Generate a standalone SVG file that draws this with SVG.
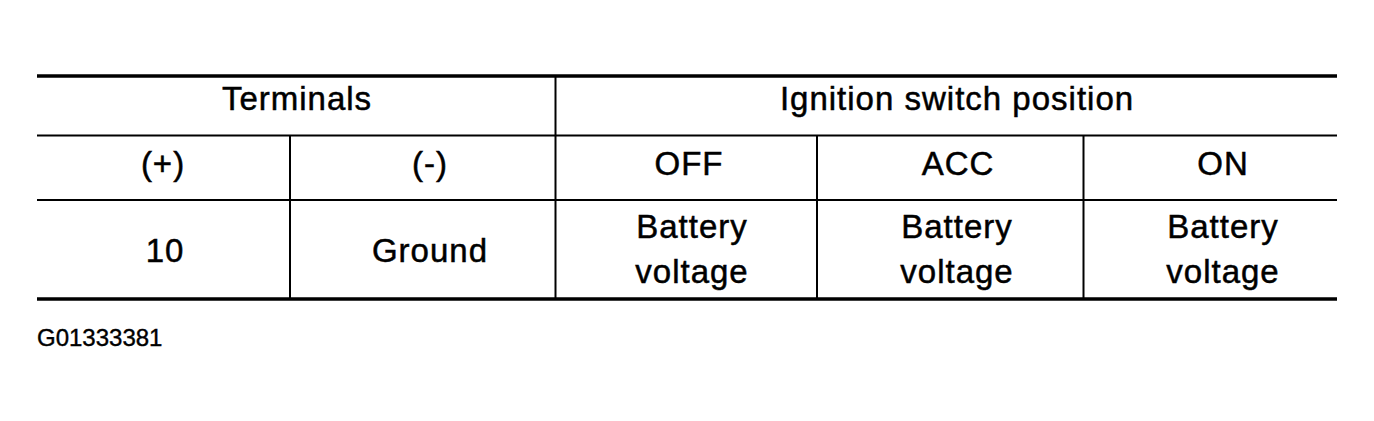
<svg xmlns="http://www.w3.org/2000/svg" width="1374" height="421" viewBox="0 0 1374 421">
<style>
.t{font-family:"Liberation Sans",Arial,sans-serif;font-size:33px;letter-spacing:1px;fill:#000;stroke:#000;stroke-width:0.5;text-anchor:middle}
.id{font-family:"Liberation Sans",Arial,sans-serif;font-size:24px;fill:#000;stroke:#000;stroke-width:0.4}
.thick{stroke:#000;stroke-width:3.5}
.thin{stroke:#000;stroke-width:2}
</style>
<rect width="1374" height="421" fill="#fff"/>
<g id="grid">
<line class="thick" x1="37" y1="76" x2="1337" y2="76"/>
<line class="thin" x1="37" y1="135.5" x2="1337" y2="135.5"/>
<line class="thin" x1="37" y1="200" x2="1337" y2="200"/>
<line class="thick" x1="37" y1="299" x2="1337" y2="299"/>
<line class="thin" x1="555.5" y1="76" x2="555.5" y2="299"/>
<line class="thin" x1="290" y1="135.5" x2="290" y2="299"/>
<line class="thin" x1="817" y1="135.5" x2="817" y2="299"/>
<line class="thin" x1="1083.5" y1="135.5" x2="1083.5" y2="299"/>
</g>
<g id="header-terminals"><text class="t" x="297" y="110">Terminals</text></g>
<g id="header-ignition"><text class="t" x="957" y="110">Ignition switch position</text></g>
<g id="col-plus"><text class="t" x="163" y="175">(+)</text></g>
<g id="col-minus"><text class="t" x="430" y="175">(-)</text></g>
<g id="col-off"><text class="t" x="689" y="175">OFF</text></g>
<g id="col-acc"><text class="t" x="958" y="175">ACC</text></g>
<g id="col-on"><text class="t" x="1223" y="175">ON</text></g>
<g id="val-plus"><text class="t" x="165" y="262">10</text></g>
<g id="val-minus"><text class="t" x="430" y="262">Ground</text></g>
<g id="val-off"><text class="t" x="692" y="238">Battery</text><text class="t" x="692" y="283">voltage</text></g>
<g id="val-acc"><text class="t" x="957" y="238">Battery</text><text class="t" x="957" y="283">voltage</text></g>
<g id="val-on"><text class="t" x="1223" y="238">Battery</text><text class="t" x="1223" y="283">voltage</text></g>
<g id="figure-id"><text class="id" x="37" y="346">G01333381</text></g>
</svg>
